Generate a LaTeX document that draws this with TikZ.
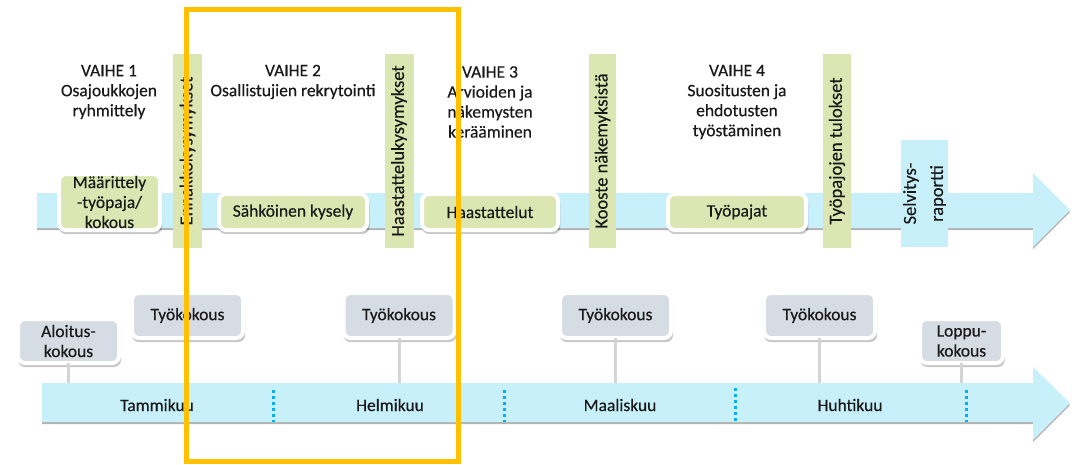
\documentclass[tikz,border=0pt]{standalone}
\usepackage{fontspec}
\setmainfont{Carlito}[FakeBold=0.4]
\usetikzlibrary{shadows}
\definecolor{band}{HTML}{C8F0FA}
\definecolor{grn}{HTML}{DCE6B2}
\definecolor{gbox}{HTML}{D6DCE4}
\definecolor{orng}{HTML}{FFC000}
\definecolor{dotc}{HTML}{00B0F0}
\definecolor{conn}{HTML}{D4D4D4}
\tikzset{
  lbl/.style={font=\fontsize{17.5}{20}\selectfont, align=center, inner sep=0pt, text=black!90},
  boxshadow/.style={drop shadow={shadow xshift=1pt, shadow yshift=-3.5pt, shadow scale=1.02, fill=black, opacity=0.22}},
  greenbox/.style={lbl, fill=grn, draw=white, line width=4pt, rounded corners=7pt, boxshadow},
  graybox/.style={lbl, fill=gbox, draw=white, line width=4pt, rounded corners=7pt, boxshadow},
  vbar/.style={fill=grn, inner sep=0pt, minimum width=29pt, minimum height=194pt},
  vtext/.style={lbl, rotate=90, font=\fontsize{18.5}{27}\selectfont},
  bandshape/.style={fill=band, drop shadow={shadow xshift=0pt, shadow yshift=-2pt, fill=black, opacity=0.3}},
  connector/.style={draw=conn, line width=3pt},
  divider/.style={draw=dotc, line width=3pt, dash pattern=on 3pt off 3pt},
  month/.style={lbl},
}
\begin{document}
\begin{tikzpicture}[x=1pt,y=-1pt]
\useasboundingbox (0,0) rectangle (1072,464);
% ---------- top band ----------
\path[bandshape] (37,193) -- (1033,193) -- (1033,173) -- (1070,210) -- (1033,247) -- (1033,228) -- (37,228) -- cycle;
% phase titles
\node[lbl] (v1) at (109,92) {VAIHE 1\\Osajoukkojen\\ryhmittely};
\node[lbl] (v2) at (293,82) {VAIHE 2\\Osallistujien rekrytointi};
\node[lbl] (v3) at (490,102) {VAIHE 3\\Arvioiden ja\\näkemysten\\kerääminen};
\node[lbl] (v4) at (737,102) {VAIHE 4\\Suositusten ja\\ehdotusten\\työstäminen};
% green boxes on band
\node[greenbox, minimum width=101pt, minimum height=56pt] (maar) at (109.5,202) {Määrittely\\-työpaja/\\kokous};
\node[greenbox, minimum width=148pt, minimum height=36pt] (sahk) at (293,212) {Sähköinen kysely};
\node[greenbox, minimum width=136pt, minimum height=36pt] (haas) at (490,212) {Haastattelut};
\node[greenbox, minimum width=138pt, minimum height=36pt] (tyop) at (737,212) {Työpajat};
% vertical bars
\node[vbar] (b1) at (187.5,151) {};
\node[vtext] at (b1.center) {Ennakkokysymykset};
\node[vbar] (b2) at (399,151) {};
\node[vtext] at (b2.center) {Haastattelukysymykset};
\node[vbar, minimum width=27pt] (b3) at (602.5,151) {};
\node[vtext] at (b3.center) {Kooste näkemyksistä};
\node[vbar, minimum width=28pt] (b4) at (837,151) {};
\node[vtext] at (b4.center) {Työpajojen tulokset};
\node[vbar, fill=band, minimum width=47pt, minimum height=107pt] (b5) at (924.5,193.5) {};
\node[vtext] at (b5.center) {Selvitys-\\raportti};
% ---------- bottom band ----------
\coordinate (t1) at (68.5,385);
\coordinate (t2) at (187.5,385);
\coordinate (t3) at (399,385);
\coordinate (t4) at (615.5,385);
\coordinate (t5) at (819.5,385);
\coordinate (t6) at (961.5,385);
\node[graybox, minimum width=101pt, minimum height=44pt] (alo) at (68.5,341) {Aloitus-\\kokous};
\node[graybox, minimum width=111pt, minimum height=45pt] (k1) at (187.5,315.5) {Työkokous};
\node[graybox, minimum width=111pt, minimum height=45pt] (k2) at (399,315.5) {Työkokous};
\node[graybox, minimum width=111pt, minimum height=45pt] (k3) at (615.5,315.5) {Työkokous};
\node[graybox, minimum width=111pt, minimum height=45pt] (k4) at (819.5,315.5) {Työkokous};
\node[graybox, minimum width=83pt, minimum height=44pt] (lop) at (961.5,341) {Loppu-\\kokous};
\draw[connector] ([yshift=2pt]alo.south) -- (t1);
\draw[connector] ([yshift=2pt]k1.south) -- (t2);
\draw[connector] ([yshift=2pt]k2.south) -- (t3);
\draw[connector] ([yshift=2pt]k3.south) -- (t4);
\draw[connector] ([yshift=2pt]k4.south) -- (t5);
\draw[connector] ([yshift=2pt]lop.south) -- (t6);
\path[bandshape] (42,383) -- (1033,383) -- (1033,367) -- (1070,403) -- (1033,440) -- (1033,422) -- (42,422) -- cycle;
\node[month] (m1) at (157,405) {Tammikuu};
\node[month] (m2) at (390,405) {Helmikuu};
\node[month] (m3) at (620,405) {Maaliskuu};
\node[month] (m4) at (850,405) {Huhtikuu};
\coordinate (d1a) at (273,390); \coordinate (d1b) at (273,422);
\coordinate (d2a) at (504,390); \coordinate (d2b) at (504,422);
\coordinate (d3a) at (735,388); \coordinate (d3b) at (735,422);
\coordinate (d4a) at (966,390); \coordinate (d4b) at (966,422);
\draw[divider] (d1a) -- (d1b);
\draw[divider] (d2a) -- (d2b);
\draw[divider] (d3a) -- (d3b);
\draw[divider] (d4a) -- (d4b);
% ---------- highlight frame ----------
\draw[orng, line width=5pt] (186.5,9) rectangle (458,461);
\end{tikzpicture}
\end{document}
